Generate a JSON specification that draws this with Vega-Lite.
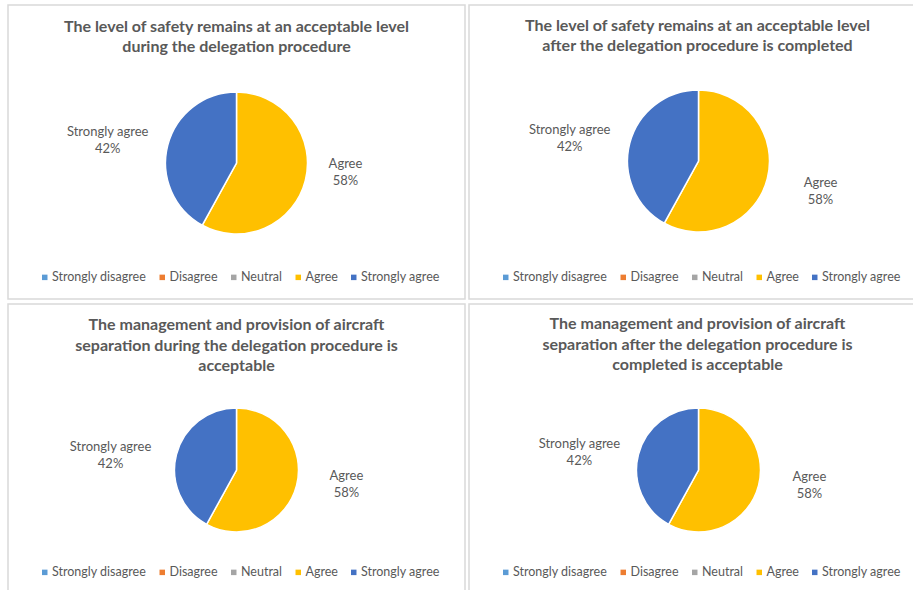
{
  "$schema": "https://vega.github.io/schema/vega-lite/v6.json",
  "background": "white",
  "padding": {"left": 7, "top": 4, "right": 0, "bottom": 0},
  "autosize": {"type": "pad"},
  "data": {"values": [
    {"response": "Strongly disagree", "share": 0},
    {"response": "Disagree", "share": 0},
    {"response": "Neutral", "share": 0},
    {"response": "Agree", "share": 58},
    {"response": "Strongly agree", "share": 42}
  ]},
  "transform": [
    {"filter": "datum.share > 0"},
    {"calculate": "[datum.response, datum.share + '%']", "as": "label"}
  ],
  "spacing": 3,
  "resolve": {"scale": {"color": "independent", "theta": "independent"}, "legend": {"color": "independent"}},
  "vconcat": [
    {
      "spacing": 4,
      "bounds": "flush",
      "resolve": {"scale": {"color": "independent", "theta": "independent"}, "legend": {"color": "independent"}},
      "hconcat": [
        {
          "width": 457, "height": 294,
          "view": {"stroke": "#d9d9d9", "strokeWidth": 1.5},
          "title": {"text": ["The level of safety remains at an acceptable level", "during the delegation procedure"], "offset": -50, "dx": 0},
          "layer": [
            {"mark": {"type": "arc", "outerRadius": 71, "stroke": "white", "strokeWidth": 1.5, "yOffset": 11},
             "encoding": {"theta": {"field": "share", "type": "quantitative", "stack": true}, "order": {"field": "share", "sort": "descending"},
               "color": {"field": "response", "type": "nominal", "scale": {"domain": ["Strongly disagree", "Disagree", "Neutral", "Agree", "Strongly agree"], "range": ["#5B9BD5", "#ED7D31", "#A5A5A5", "#FFC000", "#4472C4"]}, "legend": {"legendX": 30.5, "legendY": 266}}}},
            {"mark": {"type": "text", "radius": 133, "dy": 2.1, "yOffset": 11},
             "encoding": {"theta": {"field": "share", "type": "quantitative", "stack": true}, "order": {"field": "share", "sort": "descending"},
               "text": {"condition": {"test": "datum.response === 'Strongly agree'", "field": "label"}, "value": ""}}},
            {"mark": {"type": "text", "radius": 112.5, "dy": -27, "yOffset": 11},
             "encoding": {"theta": {"field": "share", "type": "quantitative", "stack": true}, "order": {"field": "share", "sort": "descending"},
               "text": {"condition": {"test": "datum.response === 'Agree'", "field": "label"}, "value": ""}}}
          ]
        },
        {
          "width": 445, "height": 294,
          "view": {"stroke": "#d9d9d9", "strokeWidth": 1.5},
          "title": {"text": ["The level of safety remains at an acceptable level", "after the delegation procedure is completed"], "offset": -49, "dx": 6},
          "layer": [
            {"mark": {"type": "arc", "outerRadius": 71, "stroke": "white", "strokeWidth": 1.5, "xOffset": 7, "yOffset": 9},
             "encoding": {"theta": {"field": "share", "type": "quantitative", "stack": true}, "order": {"field": "share", "sort": "descending"},
               "color": {"field": "response", "type": "nominal", "scale": {"domain": ["Strongly disagree", "Disagree", "Neutral", "Agree", "Strongly agree"], "range": ["#5B9BD5", "#ED7D31", "#A5A5A5", "#FFC000", "#4472C4"]}, "legend": {"legendX": 30.5, "legendY": 266}}}},
            {"mark": {"type": "text", "radius": 133, "dy": 2.1, "xOffset": 7, "yOffset": 9},
             "encoding": {"theta": {"field": "share", "type": "quantitative", "stack": true}, "order": {"field": "share", "sort": "descending"},
               "text": {"condition": {"test": "datum.response === 'Strongly agree'", "field": "label"}, "value": ""}}},
            {"mark": {"type": "text", "radius": 126, "dy": -9, "xOffset": 7, "yOffset": 9},
             "encoding": {"theta": {"field": "share", "type": "quantitative", "stack": true}, "order": {"field": "share", "sort": "descending"},
               "text": {"condition": {"test": "datum.response === 'Agree'", "field": "label"}, "value": ""}}}
          ]
        }
      ]
    },
    {
      "spacing": 4,
      "bounds": "flush",
      "resolve": {"scale": {"color": "independent", "theta": "independent"}, "legend": {"color": "independent"}},
      "hconcat": [
        {
          "width": 457, "height": 287,
          "view": {"stroke": "#d9d9d9", "strokeWidth": 1.5},
          "title": {"text": ["The management and provision of aircraft", "separation during the delegation procedure is", "acceptable"], "offset": -70, "dx": 0},
          "layer": [
            {"mark": {"type": "arc", "outerRadius": 62, "stroke": "white", "strokeWidth": 1.5, "yOffset": 22.5},
             "encoding": {"theta": {"field": "share", "type": "quantitative", "stack": true}, "order": {"field": "share", "sort": "descending"},
               "color": {"field": "response", "type": "nominal", "scale": {"domain": ["Strongly disagree", "Disagree", "Neutral", "Agree", "Strongly agree"], "range": ["#5B9BD5", "#ED7D31", "#A5A5A5", "#FFC000", "#4472C4"]}, "legend": {"legendX": 30.5, "legendY": 262}}}},
            {"mark": {"type": "text", "radius": 130, "dy": 9.4, "yOffset": 22.5},
             "encoding": {"theta": {"field": "share", "type": "quantitative", "stack": true}, "order": {"field": "share", "sort": "descending"},
               "text": {"condition": {"test": "datum.response === 'Strongly agree'", "field": "label"}, "value": ""}}},
            {"mark": {"type": "text", "radius": 113.5, "dy": -22.3, "yOffset": 22.5},
             "encoding": {"theta": {"field": "share", "type": "quantitative", "stack": true}, "order": {"field": "share", "sort": "descending"},
               "text": {"condition": {"test": "datum.response === 'Agree'", "field": "label"}, "value": ""}}}
          ]
        },
        {
          "width": 445, "height": 287,
          "view": {"stroke": "#d9d9d9", "strokeWidth": 1.5},
          "title": {"text": ["The management and provision of aircraft", "separation after the delegation procedure is", "completed is acceptable"], "offset": -69, "dx": 6},
          "layer": [
            {"mark": {"type": "arc", "outerRadius": 62, "stroke": "white", "strokeWidth": 1.5, "xOffset": 7, "yOffset": 22.5},
             "encoding": {"theta": {"field": "share", "type": "quantitative", "stack": true}, "order": {"field": "share", "sort": "descending"},
               "color": {"field": "response", "type": "nominal", "scale": {"domain": ["Strongly disagree", "Disagree", "Neutral", "Agree", "Strongly agree"], "range": ["#5B9BD5", "#ED7D31", "#A5A5A5", "#FFC000", "#4472C4"]}, "legend": {"legendX": 30.5, "legendY": 262}}}},
            {"mark": {"type": "text", "radius": 123, "dy": 4.6, "xOffset": 7, "yOffset": 22.5},
             "encoding": {"theta": {"field": "share", "type": "quantitative", "stack": true}, "order": {"field": "share", "sort": "descending"},
               "text": {"condition": {"test": "datum.response === 'Strongly agree'", "field": "label"}, "value": ""}}},
            {"mark": {"type": "text", "radius": 114.5, "dy": -21.5, "xOffset": 7, "yOffset": 22.5},
             "encoding": {"theta": {"field": "share", "type": "quantitative", "stack": true}, "order": {"field": "share", "sort": "descending"},
               "text": {"condition": {"test": "datum.response === 'Agree'", "field": "label"}, "value": ""}}}
          ]
        }
      ]
    }
  ],
  "config": {
    "font": "Lato",
    "view": {"stroke": "#d9d9d9", "strokeWidth": 1.5},
    "title": {"anchor": "middle", "frame": "group", "baseline": "top", "font": "Lato", "fontSize": 16, "fontWeight": "bold", "color": "#595959", "lineHeight": 20.5},
    "text": {"font": "Lato", "fontSize": 13, "color": "#595959", "lineHeight": 17},
    "legend": {"orient": "none", "direction": "horizontal", "title": null, "symbolType": "square", "symbolSize": 30, "symbolStrokeWidth": 0, "labelFont": "Lato", "labelFontSize": 12.5, "labelColor": "#595959", "columnPadding": 9.5, "labelOffset": 1}
  }
}
